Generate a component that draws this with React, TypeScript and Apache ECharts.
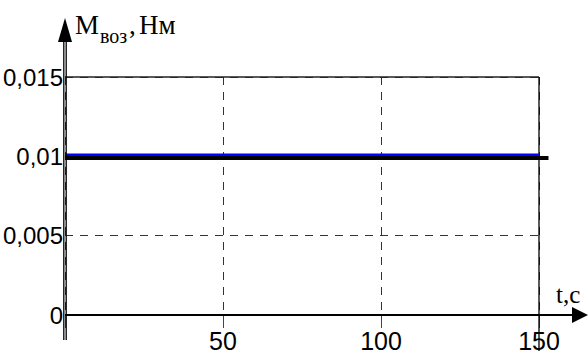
import React, { useEffect, useRef } from "react";
import * as echarts from "echarts";

const xTicks = [0, 50, 100, 150];
const yTicks = [0, 0.005, 0.01, 0.015];
const blueX = [0, 150];
const blueY = [0.0101, 0.0101];
const blackX = [0, 153];
const blackY = [0.0099, 0.0099];

const SANS = '"Liberation Sans", Arial, sans-serif';
const SERIF = '"Liberation Serif", "Times New Roman", serif';

export default function App() {
  const ref = useRef<HTMLDivElement>(null);
  useEffect(() => {
    if (!ref.current) return;
    const chart = echarts.init(ref.current, null, { renderer: "svg" });
    const dash = [8, 7];
    const W = 588, L = 65, R = 49;
    const xMax = xTicks[xTicks.length - 1];
    const blackMax = blackX[blackX.length - 1];
    const plotW = W - L - R;
    const R2 = R - ((blackMax - xMax) / xMax) * plotW;
    chart.setOption({
      animation: false,
      grid: [
        { left: L, right: R, top: 77, bottom: 41, outerBoundsMode: "none" },
        { left: L, right: R2, top: 77, bottom: 41, outerBoundsMode: "none" },
      ],
      xAxis: [
        {
          type: "value",
          gridIndex: 0,
          min: xTicks[0],
          max: xMax,
          interval: 50,
          axisLine: { show: false },
          axisTick: { show: true, length: 13, lineStyle: { color: "#444", width: 1 } },
          axisLabel: {
            margin: 15,
            fontFamily: SANS,
            fontSize: 25,
            lineHeight: 22,
            color: "#000",
            formatter: (v: number) => (v === 0 ? "" : String(v)),
          },
          splitLine: { show: true, lineStyle: { color: "#333", width: 1, type: dash } },
        },
        { type: "value", gridIndex: 1, min: 0, max: blackMax, show: false },
      ],
      yAxis: [
        {
          type: "value",
          gridIndex: 0,
          min: yTicks[0],
          max: yTicks[yTicks.length - 1],
          interval: 0.005,
          axisLine: { show: false },
          axisTick: { show: false },
          axisLabel: {
            margin: 2,
            fontFamily: SANS,
            fontSize: 24,
            color: "#000",
            formatter: (v: number) => (v === 0 ? "0" : String(v).replace(".", ",")),
          },
          splitLine: { show: true, lineStyle: { color: "#333", width: 1, type: dash } },
        },
        { type: "value", gridIndex: 1, min: yTicks[0], max: yTicks[yTicks.length - 1], show: false },
      ],
      series: [
        {
          type: "line",
          xAxisIndex: 1,
          yAxisIndex: 1,
          data: blackX.map((x, i) => [x, blackY[i]]),
          symbol: "none",
          clip: false,
          lineStyle: { color: "#000", width: 4 },
          z: 3,
        },
        {
          type: "line",
          xAxisIndex: 0,
          yAxisIndex: 0,
          data: blueX.map((x, i) => [x, blueY[i]]),
          symbol: "none",
          clip: false,
          lineStyle: { color: "#0000ff", width: 2.5 },
          z: 4,
        },
      ],
    });

    const p0 = chart.convertToPixel({ gridIndex: 0 }, [0, 0]) as number[];
    const p1 = chart.convertToPixel({ gridIndex: 0 }, [xMax, 0.015]) as number[];
    const x0 = p0[0], y0 = p0[1], x1 = p1[0], y1 = p1[1];
    const blk = "#000";
    chart.setOption({
      graphic: [
        { type: "line", shape: { x1: x0, y1: y1, x2: x1, y2: y1 }, style: { stroke: "#222", lineWidth: 1.5 }, z: 1 },
        { type: "line", shape: { x1: x1, y1: y1, x2: x1, y2: y0 + 36 }, style: { stroke: blk, lineWidth: 1.3 }, z: 1 },
        { type: "line", shape: { x1: x0 - 1.2, y1: y0 + 25, x2: x0 - 1.2, y2: 38 }, style: { stroke: blk, lineWidth: 1.3 }, z: 10 },
        { type: "line", shape: { x1: x0 + 1.2, y1: y0 + 25, x2: x0 + 1.2, y2: 38 }, style: { stroke: blk, lineWidth: 1.3 }, z: 10 },
        { type: "polygon", shape: { points: [[x0 - 7, 42], [x0 + 7, 42], [x0, 18]] }, style: { fill: blk }, z: 10 },
        { type: "line", shape: { x1: x0, y1: y0, x2: 576, y2: y0 }, style: { stroke: blk, lineWidth: 2 }, z: 10 },
        { type: "polygon", shape: { points: [[572, y0 - 8], [572, y0 + 8], [588, y0]] }, style: { fill: blk }, z: 10 },
        { type: "text", x: 75, y: 25, style: { text: "M", font: `27px ${SERIF}`, fill: blk, textVerticalAlign: "middle" }, z: 10 },
        { type: "text", x: 100, y: 36, style: { text: "воз", font: `20px ${SERIF}`, fill: blk, textVerticalAlign: "middle" }, z: 10 },
        { type: "text", x: 129, y: 25, style: { text: ",", font: `27px ${SERIF}`, fill: blk, textVerticalAlign: "middle" }, z: 10 },
        { type: "text", x: 139, y: 25, style: { text: "Нм", font: `27px ${SERIF}`, fill: blk, textVerticalAlign: "middle" }, z: 10 },
        { type: "text", x: 556, y: 294, style: { text: "t,c", font: `25px ${SERIF}`, fill: blk, textVerticalAlign: "middle" }, z: 10 },
      ],
    });
    return () => chart.dispose();
  }, []);
  return <div ref={ref} style={{ width: 588, height: 356, position: "absolute", left: 0, top: 0 }} />;
}
